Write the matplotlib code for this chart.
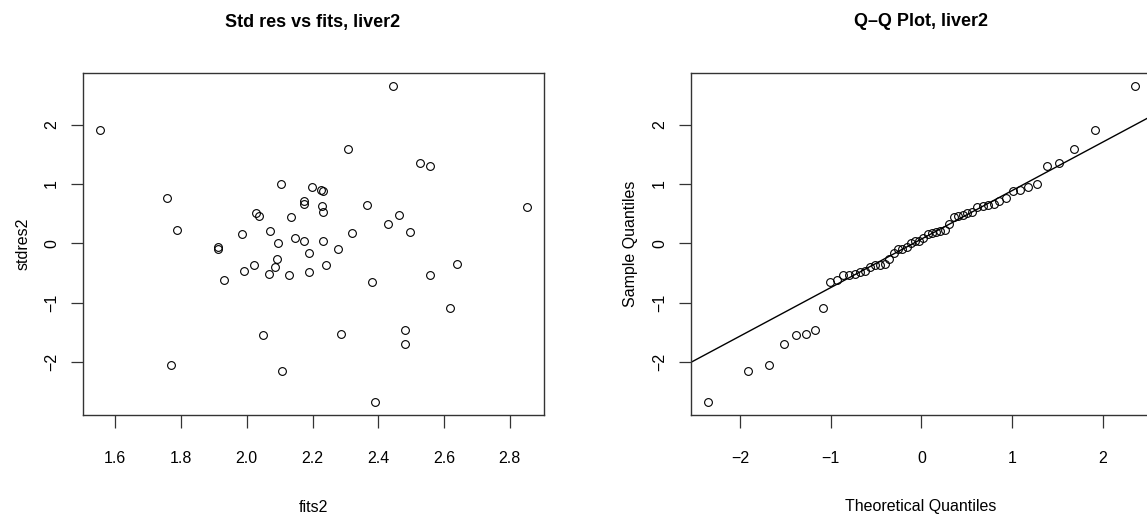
import numpy as np
import matplotlib
matplotlib.use("Agg")
import matplotlib.pyplot as plt
from statistics import NormalDist

plt.rcParams['font.family'] = ['Liberation Sans', 'DejaVu Sans']

# fitted values and standardized residuals
fits2 = [1.553, 1.758, 1.787, 2.105, 2.197, 2.174, 2.174, 2.028, 2.037, 2.134,
         1.986, 2.070, 2.148, 2.174, 2.096, 1.912, 1.913, 2.190, 2.092, 2.021,
         2.086, 1.991, 2.068, 2.128, 2.190, 1.930, 2.050, 1.770, 2.107, 2.445,
         2.307, 2.527, 2.556, 2.225, 2.233, 2.228, 2.233, 2.365, 2.852, 2.463,
         2.431, 2.321, 2.497, 2.231, 2.277, 2.242, 2.382, 2.556, 2.639, 2.619,
         2.287, 2.480, 2.480, 2.390]
stdres2 = [1.910, 0.760, 0.220, 1.007, 0.956, 0.710, 0.660, 0.513, 0.458, 0.436,
           0.156, 0.206, 0.084, 0.044, 0.010, -0.070, -0.090, -0.168, -0.264, -0.358,
           -0.398, -0.460, -0.520, -0.526, -0.487, -0.616, -1.544, -2.054, -2.143, 2.651,
           1.587, 1.352, 1.302, 0.906, 0.877, 0.626, 0.530, 0.648, 0.609, 0.470,
           0.324, 0.178, 0.190, 0.035, -0.090, -0.364, -0.644, -0.532, -0.342, -1.086,
           -1.533, -1.455, -1.690, -2.674]

xticks_left = [1.6, 1.8, 2.0, 2.2, 2.4, 2.6, 2.8]
xticklabels_left = ["1.6", "1.8", "2.0", "2.2", "2.4", "2.6", "2.8"]
yticks = [-2, -1, 0, 1, 2]
xticks_right = [-2, -1, 0, 1, 2]
int_labels = ["\u22122", "\u22121", "0", "1", "2"]

W, H = 1147, 518
fig = plt.figure(figsize=(W / 100, H / 100), dpi=100)

def px_axes(l, t, r, b):
    return fig.add_axes([l / W, 1 - b / H, (r - l) / W, (b - t) / H])

def rlim(vals):
    lo, hi = min(vals), max(vals)
    d = (hi - lo) * 0.04
    return lo - d, hi + d

def style(ax):
    for s in ax.spines.values():
        s.set_linewidth(1.0)
        s.set_color('#333333')
    ax.tick_params(direction='out', length=9, width=0.9, labelsize=11.5,
                   color='#333333')
    ax.tick_params(axis='x', pad=17)
    ax.tick_params(axis='y', pad=8)
    for lab in ax.get_yticklabels():
        lab.set_rotation(90)
        lab.set_va('center')

mk = dict(linestyle='none', marker='o', markersize=5.6, markerfacecolor='none',
          markeredgecolor='black', markeredgewidth=0.8)

def px_text(x, y, s, **kw):
    fig.text(x / W, 1 - y / H, s, ha='center', va='center', **kw)

# left: residuals vs fits
ax1 = px_axes(82.7, 73.3, 544, 414.7)
ax1.plot(fits2, stdres2, **mk)
ax1.set_xlim(*rlim(fits2))
ax1.set_ylim(*rlim(stdres2))
ax1.set_xticks(xticks_left, xticklabels_left)
ax1.set_yticks(yticks, int_labels)
style(ax1)
px_text(313, 507, "fits2", fontsize=11.5)
px_text(23, 244, "stdres2", fontsize=11.5, rotation=90)
px_text(313, 22, "Std res vs fits, liver2", fontsize=13, fontweight='bold')

# right: normal Q-Q plot of the same residuals
n = len(stdres2)
sample = np.sort(stdres2)
probs = [(i + 1 - 0.5) / n for i in range(n)]
theo = np.array([NormalDist().inv_cdf(p) for p in probs])
q1, q3 = np.percentile(stdres2, [25, 75])
z1, z3 = NormalDist().inv_cdf(0.25), NormalDist().inv_cdf(0.75)
slope = (q3 - q1) / (z3 - z1)
icpt = q1 - slope * z1

ax2 = px_axes(690.7, 73.3, 1152, 414.7)
ax2.plot(theo, sample, **mk)
xl = rlim(theo)
ax2.set_xlim(*xl)
ax2.set_ylim(*rlim(sample))
ax2.plot(xl, [icpt + slope * xl[0], icpt + slope * xl[1]], color='black', lw=1.0)
ax2.set_xticks(xticks_right, int_labels)
ax2.set_yticks(yticks, int_labels)
style(ax2)
px_text(921, 507, "Theoretical Quantiles", fontsize=11.5)
px_text(631, 244, "Sample Quantiles", fontsize=11.5, rotation=90)
px_text(921, 22, "Q\u2013Q Plot, liver2", fontsize=13, fontweight='bold')

fig.savefig("out.png", dpi=100)
